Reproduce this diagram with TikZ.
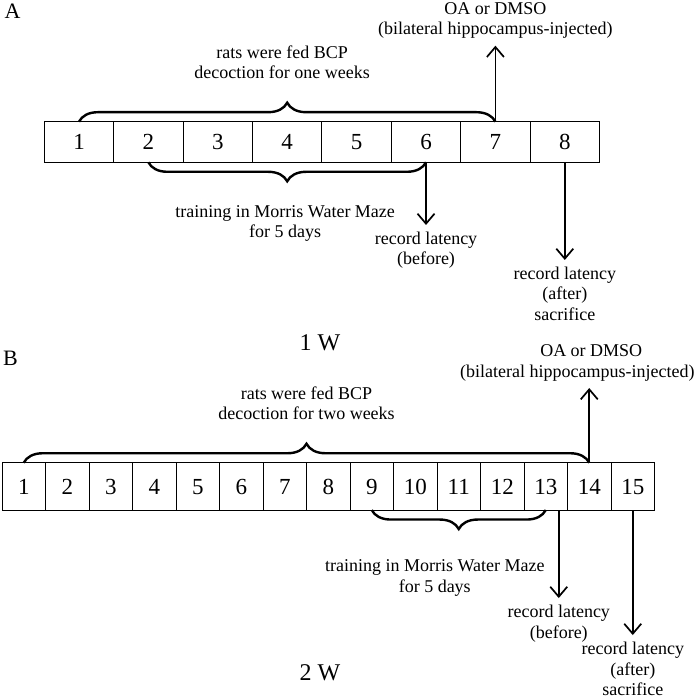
\documentclass[tikz,border=0pt]{standalone}
\usepackage{fontspec}
\setmainfont{Liberation Serif}
\usetikzlibrary{positioning, calc, arrows.meta, decorations.pathreplacing}
\tikzset{
    daybox/.style={
        rectangle,
        draw=black,
        line width=1pt,
        inner sep=0pt,
        outer sep=0pt,
        text height=15.5pt,
        text depth=0pt,
        font=\fontsize{23}{23}\selectfont,
    },
    dayA/.style={daybox, minimum width=69.4pt, minimum height=40.6pt},
    dayB/.style={daybox, minimum width=43.5pt, minimum height=47.3pt},
    note/.style={
        align=center,
        inner sep=2pt,
        outer sep=5pt,
        font=\fontsize{18}{20.5}\selectfont,
    },
    curly/.style={decorate, decoration={brace, amplitude=19pt, #1}, line width=2.4pt},
    curly/.default={},
    panel/.style={font=\fontsize{22}{22}\selectfont},
    week/.style={font=\fontsize{24}{24}\selectfont},
}

\begin{document}
\begin{tikzpicture}[x=1pt, y=1pt, >={Straight Barb[length=10pt, width=17pt]}, line width=1.7pt]
      \useasboundingbox (0,0) rectangle (700,700);

      \node[panel] (A) at (12.5,688.5) {A};
      \node[dayA] (a1) at (79,558) {1};
      \foreach \i [count=\j] in {2,...,8}
        \node[dayA, right=0pt of a\j] (a\i) {\i};

      \draw[curly] (a1.north) -- (a7.north);
      \coordinate (fedA) at ($(a1.north)!0.5!(a7.north)+(0,19)$);
      \node[note, above=17pt of fedA, xshift=-5pt] (topA) {rats were fed BCP\\decoction for one weeks};

      \draw[curly=mirror] (a2.south) -- (a6.south);
      \coordinate (mwmA) at ($(a2.south)!0.5!(a6.south)+(0,-19)$);
      \node[note, below=17pt of mwmA, xshift=-2pt] (trainA) {training in Morris Water Maze\\for 5 days};

      \node[note, above=76pt of a7] (oaA) {OA or DMSO\\(bilateral hippocampus-injected)};
      \node[note, below=62.7pt of a6] (beforeA) {record latency\\(before)};
      \node[note, below=97.7pt of a8] (afterA) {record latency\\(after)\\sacrifice};
      \draw[->] (a7) -- (oaA);
      \draw[->] (a6) -- (beforeA);
      \draw[->] (a8) -- (afterA);

      \node[week] (wA) at (320,357) {1 W};

      \node[panel] (B) at (10.5,342) {B};
      \node[dayB] (b1) at (23.75,213.6) {1};
      \foreach \i [count=\j] in {2,...,15}
        \node[dayB, right=0pt of b\j] (b\i) {\i};

      \draw[curly] (b1.north) -- (b14.north);
      \coordinate (fedB) at ($(b1.north)!0.5!(b14.north)+(0,19)$);
      \node[note, above=17pt of fedB] (topB) {rats were fed BCP\\decoction for two weeks};

      \draw[curly=mirror] (b9.south) -- (b13.south);
      \coordinate (mwmB) at ($(b9.south)!0.5!(b13.south)+(0,-19)$);
      \node[note, below=24pt of mwmB, xshift=-24pt] (trainB) {training in Morris Water Maze\\for 5 days};

      \node[note, above=74.7pt of b14, xshift=-12pt] (oaB) {\hspace*{28pt}OA or DMSO\\(bilateral hippocampus-injected)};
      \node[note, below=88pt of b13, xshift=13pt] (beforeB) {record latency\\(before)};
      \node[note, below=125pt of b15] (afterB) {record latency\\(after)\\sacrifice};
      \draw[->] (b14) -- (b14 |- oaB.south);
      \draw[->] (beforeB.north |- b13.south) -- (beforeB);
      \draw[->] (b15) -- (afterB);

      \node[week] (wB) at (320,27) {2 W};
    \end{tikzpicture}
\end{document}
